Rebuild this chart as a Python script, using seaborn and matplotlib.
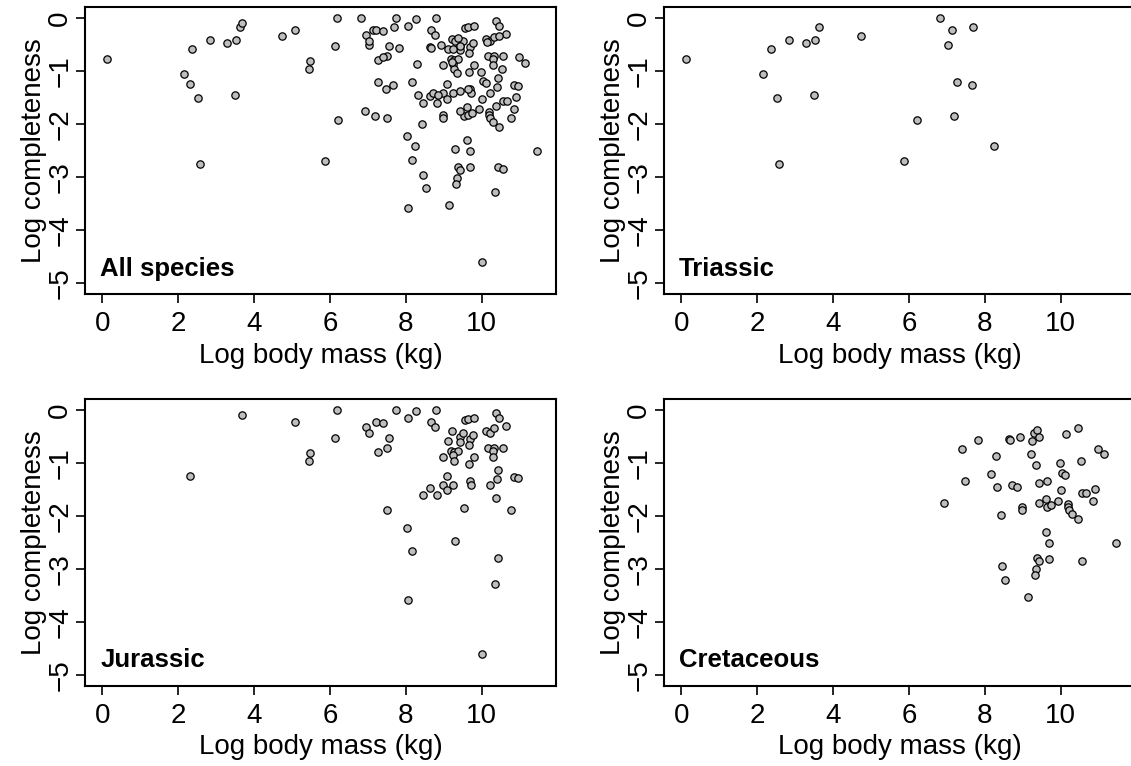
import numpy as np
import pandas as pd
import matplotlib
matplotlib.use("Agg")
import matplotlib.pyplot as plt
import seaborn as sns

# ---- data ----
tri_mass = [0.11, 2.14, 2.36, 2.51, 2.56, 2.84, 3.28, 3.52, 3.50, 3.62, 4.74,
            5.86, 6.20, 6.82, 7.04, 7.14, 7.20, 7.26, 7.65, 7.70, 8.24]
tri_comp = [-0.78, -1.05, -0.59, -1.51, -2.76, -0.42, -0.48, -0.41, -1.46, -0.17, -0.34,
            -2.70, -1.92, -0.01, -0.51, -0.23, -1.84, -1.21, -1.27, -0.17, -2.41]

jur_mass = [3.68, 2.31, 5.08, 5.47, 5.45,
            6.19, 6.12, 6.96, 7.03, 7.22, 7.40, 7.56, 7.50, 7.26, 7.74,
            8.05, 8.27, 8.80, 8.67, 8.76, 9.23, 9.11, 9.42, 9.44, 9.51,
            9.55, 9.64, 9.81, 9.70, 9.77, 9.67, 9.19, 9.27, 9.38, 9.25,
            8.97, 9.26, 9.79, 9.66, 10.11, 10.22, 10.33, 10.37, 10.45, 10.65,
            10.16, 10.33, 10.30, 10.57, 10.30, 9.08, 8.97, 9.24, 9.08, 8.65,
            8.44, 8.82, 9.69, 9.71, 10.42, 10.41, 10.21, 10.84, 10.97, 10.37,
            7.50, 9.53, 10.77, 8.04, 9.30, 8.17, 10.43, 10.34, 8.05, 10.01]
jur_comp = [-0.09, -1.24, -0.23, -0.82, -0.97,
            -0.00, -0.53, -0.32, -0.44, -0.22, -0.24, -0.53, -0.72, -0.80, -0.00,
            -0.15, -0.02, -0.00, -0.22, -0.33, -0.39, -0.58, -0.52, -0.61, -0.44,
            -0.19, -0.18, -0.15, -0.55, -0.47, -0.67, -0.77, -0.80, -0.77, -0.86,
            -0.89, -0.97, -0.89, -1.02, -0.39, -0.44, -0.35, -0.05, -0.15, -0.30,
            -0.72, -0.72, -0.77, -0.72, -0.88, -1.24, -1.42, -1.42, -1.52, -1.47,
            -1.61, -1.61, -1.34, -1.42, -1.14, -1.31, -1.42, -1.27, -1.28, -1.66,
            -1.89, -1.85, -1.89, -2.22, -2.47, -2.67, -2.80, -3.28, -3.58, -4.60]

cre_mass = [6.92, 7.39, 7.48, 7.81, 8.30, 8.17, 8.31, 8.43, 8.64, 8.67,
            8.92, 8.72, 8.86, 8.99, 8.98, 9.23, 9.34, 9.24, 9.30, 9.37,
            9.44, 9.44, 9.63, 9.42, 9.60, 9.63, 9.74, 9.92, 9.97, 10.04,
            10.11, 10.01, 10.13, 10.45, 10.53, 10.20, 10.20, 10.21, 10.29, 10.47,
            10.55, 10.66, 10.90, 10.84, 10.99, 11.15, 9.60, 9.69, 11.46,
            9.37, 9.42, 9.69, 10.55, 8.44, 8.54, 9.34, 9.32, 9.14]
cre_comp = [-1.76, -0.74, -1.34, -0.56, -0.87, -1.21, -1.46, -1.99, -0.54, -0.57,
            -0.51, -1.42, -1.46, -1.83, -1.89, -0.83, -1.04, -0.58, -0.43, -0.37,
            -0.52, -1.38, -1.34, -1.76, -1.68, -1.83, -1.80, -1.71, -1.01, -1.19,
            -1.22, -1.52, -0.45, -0.34, -0.97, -1.77, -1.83, -1.89, -1.96, -2.05,
            -1.56, -1.56, -1.49, -1.71, -0.74, -0.84, -2.30, -2.51, -2.51,
            -2.80, -2.86, -2.81, -2.85, -2.95, -3.21, -3.01, -3.12, -3.53]

panel_titles = ["All species", "Triassic", "Jurassic", "Cretaceous"]
x_ticks = [0, 2, 4, 6, 8, 10]
y_ticks = [0, -1, -2, -3, -4, -5]

tri = pd.DataFrame({"mass": tri_mass, "comp": tri_comp})
jur = pd.DataFrame({"mass": jur_mass, "comp": jur_comp})
cre = pd.DataFrame({"mass": cre_mass, "comp": cre_comp})
allsp = pd.concat([tri, jur, cre], ignore_index=True)
frames = [allsp, tri, jur, cre]

# ---- style ----
sns.set_style("white")
plt.rcParams["font.family"] = ["Liberation Sans", "DejaVu Sans"]
plt.rcParams["text.color"] = "black"
plt.rcParams["axes.labelcolor"] = "black"
plt.rcParams["xtick.color"] = "black"
plt.rcParams["ytick.color"] = "black"

W, H = 1131, 766
fig = plt.figure(figsize=(W / 100, H / 100), dpi=100)

# axes boxes in pixels: (left, top, right, bottom)
boxes = [(85, 7.3, 556, 294), (664, 7.3, 1135, 294),
         (85, 399.3, 556, 685.5), (664, 399.3, 1135, 685.5)]

FS = 20
for (l, t, r, b), df, title in zip(boxes, frames, panel_titles):
    ax = fig.add_axes([l / W, (H - b) / H, (r - l) / W, (b - t) / H])
    sns.scatterplot(data=df, x="mass", y="comp", ax=ax, s=28,
                    color="#BEBEBE", edgecolor="black", linewidth=0.9,
                    legend=False, zorder=3)
    ax.set_xlim(-0.46, 11.96)
    ax.set_ylim(-5.2, 0.2)
    ax.set_xticks(x_ticks)
    ax.set_yticks(y_ticks)
    ax.set_xticklabels([str(v) for v in x_ticks])
    ax.set_yticklabels(["0" if v == 0 else "\u2212" + str(-v) for v in y_ticks])
    for sp in ax.spines.values():
        sp.set_visible(True)
        sp.set_linewidth(1.5)
        sp.set_color("black")
    ax.tick_params(axis="both", which="major", direction="out", length=6.5,
                   width=1.2, color="black", labelcolor="black", labelsize=FS,
                   bottom=True, left=True)
    ax.tick_params(axis="x", pad=6)
    ax.tick_params(axis="y", pad=2)
    for lab in ax.get_yticklabels():
        lab.set_rotation(90)
        lab.set_va("center")
    ax.set_xlabel("Log body mass (kg)", fontsize=FS, labelpad=4, color="black")
    ax.set_ylabel("Log completeness", fontsize=FS, color="black",
                  va="center", ha="center")
    ax.yaxis.set_label_coords(-51 / (r - l), 0.5)
    ax.text(0.032, 0.063, title, transform=ax.transAxes, fontsize=18.5,
            fontweight="bold", ha="left", va="baseline", color="black")
    ax.grid(False)

fig.savefig("out.png", dpi=100)
